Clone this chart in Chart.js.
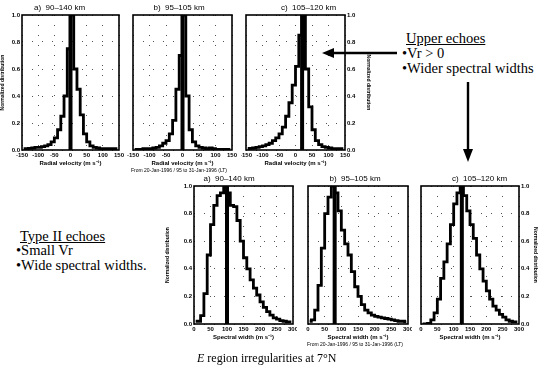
<!DOCTYPE html>
<html><head><meta charset="utf-8">
<script src="https://cdn.jsdelivr.net/npm/chart.js@4.4.0/dist/chart.umd.min.js"></script>
<style>
html,body{margin:0;padding:0;background:#fff;}
body{width:538px;height:367px;position:relative;overflow:hidden;font-family:"Liberation Serif","Times New Roman",serif;color:#000;}
canvas{position:absolute;}
.t{position:absolute;font-size:14.5px;white-space:nowrap;line-height:1;}
.u{text-decoration:underline;}
svg{position:absolute;left:0;top:0;}
</style></head><body>
<canvas id="pA"></canvas><canvas id="pB"></canvas><canvas id="pC"></canvas>
<canvas id="pD"></canvas><canvas id="pE"></canvas><canvas id="pF"></canvas>
<div class="t u" style="left:406px;top:31px;">Upper echoes</div>
<div class="t" style="left:402px;top:46px;">•Vr &gt; 0</div>
<div class="t" style="left:402px;top:61px;">•Wider spectral widths</div>
<div class="t u" style="left:20px;top:229px;">Type II echoes</div>
<div class="t" style="left:16px;top:243px;">•Small Vr</div>
<div class="t" style="left:16px;top:258px;">•Wide spectral widths.</div>
<div class="t" style="left:197px;top:352px;font-size:12px;"><i>E</i> region irregularities at 7°N</div>
<svg width="538" height="367">
  <line x1="397" y1="53" x2="332" y2="53" stroke="#000" stroke-width="2.4"/>
  <polygon points="322,53 334,48 334,58" fill="#000"/>
  <line x1="468" y1="82" x2="468" y2="150" stroke="#000" stroke-width="2.4"/>
  <polygon points="468,162 463,149 473,149" fill="#000"/>
</svg>
<script>
// ---- data ----
const velocityBins = [-145,-135,-125,-115,-105,-95,-85,-75,-65,-55,-45,-35,-25,-15,-5,5,15,25,35,45,55,65,75,85,95,105,115,125,135,145];
const widthBins = [5,15,25,35,45,55,65,75,85,95,105,115,125,135,145,155,165,175,185,195,205,215,225,235,245,255,265,275,285,295];
const velocityTicks = [-150,-100,-50,0,50,100,150];
const widthTicks = [0,50,100,150,200,250,300];
const distTicks = [0,0.2,0.4,0.6,0.8,1.0];
const panelTitles = ['a)  90\u2013140 km','b)  95\u2013105 km','c)  105\u2013120 km'];

const velA = [0.01,0.01,0.012,0.015,0.02,0.02,0.025,0.03,0.04,0.06,0.09,0.15,0.25,0.4,0.75,1.0,0.6,0.45,0.26,0.12,0.06,0.03,0.02,0.015,0.01,0.01,0.01,0.01,0.01,0.01];
const velB = [0.005,0.005,0.005,0.01,0.01,0.01,0.015,0.02,0.03,0.05,0.07,0.12,0.22,0.45,0.7,1.0,0.4,0.15,0.06,0.03,0.02,0.015,0.01,0.015,0.01,0.005,0.005,0.005,0.005,0.005];
const velC = [0.01,0.012,0.015,0.02,0.025,0.03,0.04,0.05,0.07,0.09,0.12,0.17,0.25,0.35,0.48,0.62,0.85,1.0,0.6,0.32,0.15,0.07,0.04,0.025,0.02,0.015,0.01,0.01,0.01,0.01];
const widA = [0.02,0.02,0.06,0.22,0.5,0.72,0.86,0.93,0.95,1.0,0.95,0.86,0.85,0.75,0.6,0.48,0.4,0.32,0.26,0.21,0.16,0.12,0.09,0.065,0.045,0.035,0.025,0.02,0.015,0.015];
const widB = [0.02,0.03,0.1,0.28,0.55,0.8,0.92,1.0,0.95,0.82,0.68,0.58,0.5,0.38,0.27,0.2,0.14,0.1,0.08,0.065,0.055,0.05,0.045,0.04,0.035,0.03,0.025,0.02,0.02,0.015];
const widC = [0.0,0.0,0.005,0.03,0.08,0.18,0.33,0.45,0.58,0.72,0.87,0.95,1.0,0.93,0.82,0.72,0.62,0.5,0.4,0.31,0.24,0.18,0.13,0.1,0.07,0.05,0.03,0.02,0.015,0.015];
const velocityMeans = [0,0,20];
const widthMeans = [100,80,125];

const caption = 'From 20-Jan-1996 / 95 to 31-Jan-1996 (LT)';
const velTitle = 'Radial velocity (m s\u207B\u00B9)';
const widTitle = 'Spectral width (m s\u207B\u00B9)';
const yTitle = 'Normalized distribution';

// ---- drawing ----
const SANS = '"Liberation Sans", Arial, sans-serif';
const boxPlugin = {
  id:'box',
  afterDatasetsDraw(chart){
    const a = chart.chartArea, c = chart.ctx;
    c.save(); c.strokeStyle='#000'; c.lineWidth=1.6;
    c.strokeRect(a.left, a.top, a.right-a.left, a.bottom-a.top);
    c.restore();
  }
};

function panel(p){
  const cv = document.getElementById(p.id);
  cv.width = p.w; cv.height = p.h;
  cv.style.left = p.x+'px'; cv.style.top = p.y+'px';
  cv.style.width = p.w+'px'; cv.style.height = p.h+'px';
  const tickFont = {family:SANS, size:6, weight:'bold'};
  new Chart(cv, {
    type:'line',
    data:{datasets:[
      {data:p.bins.map((b,i)=>({x:b,y:p.vals[i]})), stepped:'middle', borderColor:'#000', borderWidth:2.8, pointRadius:0, fill:false},
      {data:[{x:p.mean,y:0},{x:p.mean,y:1}], borderColor:'#000', borderWidth:4, pointRadius:0, fill:false}
    ]},
    options:{
      responsive:false, animation:false, devicePixelRatio:1,
      layout:{padding:{left:p.padL||0, right:p.padR||0, top:0, bottom:0}},
      plugins:{
        legend:{display:false}, tooltip:{enabled:false},
        title:{display:true, text:p.title, color:'#000', font:{family:SANS, size:8, weight:'normal', lineHeight:1.2}, padding:{top:p.titleTop, bottom:2}},
        subtitle:{display:!!p.caption, position:'bottom', text:p.caption||'', color:'#000', font:{family:SANS, size:5, lineHeight:1.2}, padding:0}
      },
      scales:{
        x:{type:'linear', min:p.xTicks[0], max:p.xTicks[p.xTicks.length-1],
          afterBuildTicks:s=>{s.ticks = p.xTicks.map(v=>({value:v}));},
          ticks:{color:'#000', font:tickFont, padding:2, maxRotation:0, autoSkip:false},
          grid:{color:'#555', lineWidth:1, drawTicks:false},
          border:{display:false, dash:[1,9]},
          title:{display:true, text:p.xTitle, color:'#000', font:{family:SANS, size:6, weight:'bold', lineHeight:1.2}, padding:{top:0,bottom:1}},
          afterFit:s=>{s.height=18; s.paddingLeft=0; s.paddingRight=0;}
        },
        y:{min:0, max:1, position:p.yPos,
          afterBuildTicks:s=>{s.ticks = distTicks.map(v=>({value:v}));},
          ticks:{display:p.yLabels, color:'#000', font:tickFont, padding:2, callback:v=>Number(v).toFixed(1)},
          grid:{color:'#555', lineWidth:1, drawTicks:false},
          border:{display:false, dash:[1,9]},
          title:{display:p.yLabels, text:yTitle, color:'#000', font:{family:SANS, size:5, weight:'bold', lineHeight:1.2}, padding:0},
          afterFit:s=>{s.width=p.yw; s.paddingTop=0; s.paddingBottom=0;}
        }
      }
    },
    plugins:[boxPlugin]
  });
}

// top row: chart areas ~ x 22-119, 133-232, 246-345; y 15-150
panel({id:'pA', x:0, y:0, w:124, h:168, bins:velocityBins, vals:velA, mean:velocityMeans[0], title:panelTitles[0], titleTop:15-9.6-2, xTicks:velocityTicks, xTitle:velTitle, yPos:'left', yLabels:true, yw:22, padR:5});
panel({id:'pB', x:126, y:0, w:111, h:174, bins:velocityBins, vals:velB, mean:velocityMeans[1], title:panelTitles[1], titleTop:15-9.6-2, xTicks:velocityTicks, xTitle:velTitle, yPos:'left', yLabels:false, yw:7, padR:5, caption:caption});
panel({id:'pC', x:241, y:0, w:130, h:168, bins:velocityBins, vals:velC, mean:velocityMeans[2], title:panelTitles[2], titleTop:15-9.6-2, xTicks:velocityTicks, xTitle:velTitle, yPos:'right', yLabels:true, yw:26, padL:5});
// bottom row: chart areas ~ x 194-293, 308-408, 421-519; y 186-324
panel({id:'pD', x:165, y:172, w:132, h:170, bins:widthBins, vals:widA, mean:widthMeans[0], title:panelTitles[0], titleTop:186-172-9.6-2, xTicks:widthTicks, xTitle:widTitle, yPos:'left', yLabels:true, yw:29, padR:4});
panel({id:'pE', x:302, y:172, w:110, h:176, bins:widthBins, vals:widB, mean:widthMeans[1], title:panelTitles[1], titleTop:186-172-9.6-2, xTicks:widthTicks, xTitle:widTitle, yPos:'left', yLabels:false, yw:6, padR:4, caption:caption});
panel({id:'pF', x:415, y:172, w:123, h:170, bins:widthBins, vals:widC, mean:widthMeans[2], title:panelTitles[2], titleTop:186-172-9.6-2, xTicks:widthTicks, xTitle:widTitle, yPos:'right', yLabels:true, yw:19, padL:6});
</script>
</body></html>
